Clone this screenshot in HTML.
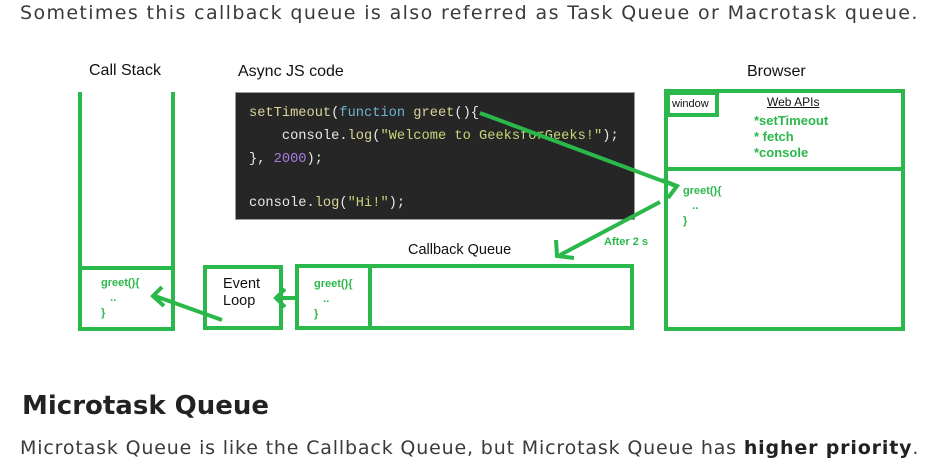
<!DOCTYPE html>
<html><head><style>
body{margin:0;width:940px;height:471px;background:#fff;position:relative;overflow:hidden;font-family:"Liberation Sans",sans-serif}
.a{position:absolute;white-space:nowrap}
.g{color:#2bb84a;font-weight:bold}
.code{font-family:"Liberation Mono",monospace;font-size:13.7px;color:#e8e8e8;position:absolute;left:249px;white-space:pre}
</style></head><body>
<div class="a" style="left:20px;top:2px;font-size:19px;color:#3a3a3a;font-family:'DejaVu Sans',sans-serif;letter-spacing:1.38px">Sometimes this callback queue is also referred as Task Queue or Macrotask queue.</div>
<div class="a" style="left:22px;top:391px;font-size:26px;font-weight:bold;color:#222;font-family:'DejaVu Sans',sans-serif">Microtask Queue</div>
<div class="a" style="left:20px;top:437px;font-size:19px;color:#3a3a3a;font-family:'DejaVu Sans',sans-serif;letter-spacing:0.84px">Microtask Queue is like the Callback Queue, but Microtask Queue has <b style="color:#222">higher priority</b>.</div>

<div style="position:absolute;left:235px;top:92px;width:398px;height:126px;background:#262626;border:1px solid #999"></div>
<div class="code" style="top:106px"><span style="color:#d9d49a">setTimeout</span>(<span style="color:#6fb3d2">function</span> <span style="color:#d9d49a">greet</span>(){</div>
<div class="code" style="top:129px">    console.<span style="color:#d9d49a">log</span>(<span style="color:#c4d67a">"Welcome to GeeksforGeeks!"</span>);</div>
<div class="code" style="top:152px">}, <span style="color:#a77be0">2000</span>);</div>
<div class="code" style="top:196px">console.<span style="color:#d9d49a">log</span>(<span style="color:#c4d67a">"Hi!"</span>);</div>

<div class="a" style="left:89px;top:62px;font-size:16px;color:#111">Call Stack</div>
<div class="a" style="left:238px;top:63px;font-size:16px;color:#111">Async JS code</div>
<div class="a" style="left:747px;top:63px;font-size:16px;color:#111">Browser</div>
<div class="a" style="left:408px;top:242px;font-size:14.5px;color:#111">Callback Queue</div>
<div class="a" style="left:223px;top:276px;font-size:14.5px;color:#111;line-height:17px">Event<br>Loop</div>
<div class="a" style="left:672px;top:98px;font-size:11px;color:#111">window</div>
<div class="a" style="left:767px;top:95px;font-size:12px;color:#111;text-decoration:underline">Web APIs</div>
<div class="a g" style="left:754px;top:113px;font-size:13px;line-height:16px">*setTimeout<br>* fetch<br>*console</div>
<div class="a g" style="left:604px;top:236px;font-size:11px">After 2 s</div>
<div class="a g" style="left:101px;top:276px;font-size:11px;line-height:15px">greet(){<br>&nbsp;&nbsp;&nbsp;..<br>}</div>
<div class="a g" style="left:314px;top:277px;font-size:11px;line-height:15px">greet(){<br>&nbsp;&nbsp;&nbsp;..<br>}</div>
<div class="a g" style="left:683px;top:184px;font-size:11px;line-height:15px">greet(){<br>&nbsp;&nbsp;&nbsp;..<br>}</div>

<svg width="940" height="471" style="position:absolute;left:0;top:0" fill="none" stroke="#2bb84a" stroke-width="4">
<path d="M80 92V329H173V92M80 268H173"/>
<rect x="205" y="267" width="76" height="61"/>
<rect x="297" y="266" width="335" height="62"/>
<path d="M370 266V328"/>
<rect x="666" y="91" width="237" height="238"/>
<path d="M666 169H903"/>
<rect x="668" y="93" width="49" height="22"/>
<path d="M480 113L676 186M662 180L677 186L668 198"/>
<path d="M660 202L560 255M556 240L557 256L574 258"/>
<path d="M297 298H276M285 289L276 298L285 307"/>
<path d="M222 320L155 296M162 287L153 296L164 306"/>
</svg>
</body></html>
